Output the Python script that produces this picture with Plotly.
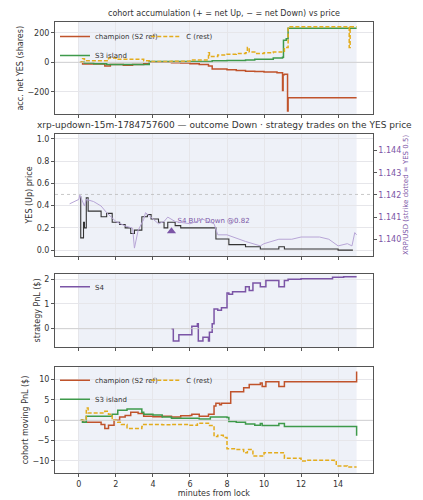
import plotly.graph_objects as go
from plotly.subplots import make_subplots

# ---- data ----
acc_champ_t = [0.1, 0.2, 1.4, 1.7, 2.4, 2.9, 3.5, 3.8, 5.0, 5.5, 6.0, 6.5, 7.0, 7.2, 8.0, 8.5, 9.0, 9.5, 10.0, 10.7, 11.0, 11.03, 11.1, 11.27, 11.3, 15.0]
acc_champ_v = [0, -12, -25, -15, -20, -15, -10, 0, -3, -5, -10, -15, -25, -45, -50, -55, -60, -62, -65, -70, -190, -85, -80, -330, -240, -240]
acc_s3_t = [0.1, 0.3, 0.8, 1.5, 3.8, 7.2, 8.0, 9.0, 9.5, 10.5, 11.0, 11.05, 11.2, 11.3, 15.0]
acc_s3_v = [0, -5, -10, -15, 5, 10, 12, 15, 20, 30, 35, 150, 160, 230, 230]
acc_c_t = [0.05, 0.2, 0.3, 1.6, 2.0, 3.5, 3.8, 5.0, 6.0, 7.0, 7.05, 7.5, 8.0, 8.5, 9.0, 9.1, 9.2, 9.5, 10.0, 10.5, 11.1, 11.3, 14.6, 14.65, 15.0]
acc_c_v = [0, 25, 10, 30, 20, 10, 5, 8, 15, 65, 40, 50, 55, 60, 65, 100, 70, 60, 65, 70, 100, 240, 100, 240, 240]

yes_t = [0.05, 0.1, 0.25, 0.3, 0.4, 0.5, 1.2, 1.5, 1.8, 2.2, 2.5, 2.8, 3.0, 3.4, 3.7, 3.9, 4.3, 4.6, 4.8, 5.2, 5.5, 7.4, 8.1, 9.0, 9.8, 10.8, 11.1, 14.0, 14.8]
yes_v = [0.48, 0.11, 0.25, 0.2, 0.47, 0.35, 0.3, 0.33, 0.25, 0.23, 0.2, 0.15, 0.18, 0.3, 0.32, 0.28, 0.25, 0.2, 0.25, 0.22, 0.2, 0.1, 0.05, 0.03, 0.01, 0.03, 0.01, 0.0, 0.0]
xrp_t = [-0.5, 0.0, 0.05, 0.3, 0.4, 0.8, 1.2, 1.5, 2.0, 2.5, 2.9, 3.0, 3.2, 3.5, 3.6, 4.0, 4.3, 4.6, 4.8, 5.2, 6.0, 6.7, 7.3, 7.5, 8.0, 9.0, 9.8, 10.0, 10.8, 11.5, 12.0, 13.0, 13.5, 14.0, 14.5, 14.75, 14.9, 15.0]
xrp_v = [1.1416, 1.1418, 1.1420, 1.1415, 1.1418, 1.1417, 1.1415, 1.1412, 1.1408, 1.1406, 1.1405, 1.1396, 1.1404, 1.1409, 1.1412, 1.1409, 1.1407, 1.1408, 1.1410, 1.1408, 1.1407, 1.1409, 1.1407, 1.1402, 1.1402, 1.1399, 1.1397, 1.1398, 1.1400, 1.1400, 1.1401, 1.1401, 1.1400, 1.1397, 1.1398, 1.1397, 1.1403, 1.1402]
buy_t = [5.0]
buy_v = [0.17]
buy_label = ["S4 BUY Down @0.82"]

s4_t = [5.0, 5.1, 5.4, 6.1, 6.4, 6.45, 6.7, 7.0, 7.05, 7.2, 7.3, 7.5, 7.7, 8.0, 8.1, 8.3, 9.0, 9.2, 9.4, 9.8, 10.1, 10.8, 11.1, 11.3, 12.0, 13.7, 14.3, 15.0]
s4_v = [0, -0.5, -0.25, 0.1, 0.2, -0.5, -0.35, -0.5, -0.15, 0.2, 0.8, 0.75, 0.85, 1.45, 1.4, 1.5, 1.7, 1.55, 1.85, 1.7, 1.95, 1.7, 1.95, 2.0, 2.02, 2.08, 2.1, 2.1]

pnl_champ_t = [0.1, 0.2, 1.2, 1.4, 1.6, 1.9, 2.2, 2.5, 2.8, 3.2, 3.5, 4.0, 4.5, 5.0, 5.5, 6.0, 6.1, 6.5, 7.0, 7.3, 7.4, 7.6, 7.7, 8.2, 8.9, 9.2, 9.8, 9.9, 10.1, 10.8, 11.1, 14.99, 15.0]
pnl_champ_v = [0, -0.5, -1, -2, -1.2, 0, 0.8, 1.2, 2, 1.7, 1, 0.9, 1, 0.8, 1.1, 1.2, 1.5, 1, 1.5, 3.5, 4.2, 3.8, 4.2, 7, 8, 8.8, 9.2, 8.3, 9.5, 8.3, 9.5, 9.5, 12]
pnl_s3_t = [0.1, 0.2, 0.4, 1.7, 1.8, 2.1, 2.6, 3.3, 3.4, 3.5, 4.0, 4.5, 5.0, 6.0, 6.5, 7.1, 8.0, 8.1, 8.5, 9.0, 9.5, 9.8, 9.9, 10.1, 10.8, 11.1, 14.99, 15.0]
pnl_s3_v = [0, -0.5, 1, 1, 1.5, 2.5, 2.8, 2.8, 2, 1.5, 1.3, 0.8, 0.5, 0.5, 0.3, 0.8, 0.7, -0.3, -0.5, -0.9, -1.2, -0.8, -1.3, -1.3, -0.8, -1.5, -1.5, -3.8]
pnl_c_t = [0.1, 0.4, 0.5, 1.4, 1.6, 1.8, 2.1, 2.3, 2.6, 3.4, 3.5, 4.5, 5.0, 6.0, 6.4, 7.0, 7.3, 7.5, 7.8, 8.0, 8.5, 8.9, 9.1, 9.4, 10.0, 10.9, 11.1, 12.0, 12.3, 13.8, 13.9, 14.5, 15.0]
pnl_c_v = [0, 3, 1.8, 2.2, 1.5, 0, -0.5, -1, -2, -1.5, -1, -1.1, -1, -1.2, -0.7, -1.3, -4, -3.7, -4.2, -7, -7.2, -8, -7.2, -8.8, -8, -8, -9.3, -10, -9.8, -9.9, -11.2, -11.5, -11.5]

RUST = "#c0532b"; GREEN = "#3e9a4b"; GOLD = "#e3ac1c"; PURP = "#7b55a6"; LPURP = "#b7a5d6"
DASH = "4px,2px"

fig = make_subplots(rows=4, cols=1, shared_xaxes=True, specs=[[{}], [{"secondary_y": True}], [{}], [{}]])
fig.update_layout(
    yaxis=dict(domain=[0.795, 1.0]),
    yaxis2=dict(domain=[0.481, 0.752]), yaxis3=dict(domain=[0.481, 0.752]),
    yaxis4=dict(domain=[0.279, 0.442]), yaxis5=dict(domain=[0.0, 0.235]),
)

def step(t, v, color, name, row, legend, dash="solid", width=1.5, sec=False, show=True):
    fig.add_trace(go.Scatter(x=t, y=v, mode="lines", line=dict(color=color, width=width, dash=dash, shape="hv"),
                             name=name, legend=legend, showlegend=show), row=row, col=1, secondary_y=sec if row == 2 else None)

step(acc_champ_t, acc_champ_v, RUST, "champion (S2 ref)", 1, "legend")
step(acc_s3_t, acc_s3_v, GREEN, "S3 island", 1, "legend")
step(acc_c_t, acc_c_v, GOLD, "C (rest)", 1, "legend2", dash=DASH)

fig.add_trace(go.Scatter(x=xrp_t, y=xrp_v, mode="lines", line=dict(color=LPURP, width=1), showlegend=False), row=2, col=1, secondary_y=True)
step(yes_t, yes_v, "#333333", "YES", 2, "legend", width=1.1, show=False)
fig.add_trace(go.Scatter(x=buy_t, y=buy_v, mode="markers+text", marker=dict(symbol="triangle-up", size=8, color=PURP),
                         text=buy_label, textposition="top right", textfont=dict(size=7, color=PURP), showlegend=False), row=2, col=1)

step(s4_t, s4_v, PURP, "S4", 3, "legend3")

step(pnl_champ_t, pnl_champ_v, RUST, "champion (S2 ref)", 4, "legend4")
step(pnl_s3_t, pnl_s3_v, GREEN, "S3 island", 4, "legend4")
step(pnl_c_t, pnl_c_v, GOLD, "C (rest)", 4, "legend5", dash=DASH)

fig.add_hline(y=0.5, line=dict(color="#bbbbbb", width=0.8, dash="dot"), row=2, col=1)
for r in [1, 3, 4]:
    fig.add_hline(y=0, line=dict(color="#cccccc", width=0.8), row=r, col=1)
for yr in ["y", "y2", "y4", "y5"]:
    fig.add_shape(type="rect", xref="x", yref=yr + " domain", x0=0, x1=15, y0=0, y1=1,
                  fillcolor="#eef1f8", line_width=0, layer="below")

ax = dict(showline=True, linecolor="#555555", linewidth=1, mirror=True, ticks="outside", ticklen=3,
          tickcolor="#555555", gridcolor="#e6e6ea", tickfont=dict(size=8, color="#333"), zeroline=False)
fig.update_xaxes(**ax, range=[-1.29, 15.87], tickvals=[0, 2, 4, 6, 8, 10, 12, 14])
fig.update_xaxes(title=dict(text="minutes from lock", font=dict(size=8), standoff=2), row=4, col=1)
fig.update_yaxes(**ax)
fig.update_yaxes(range=[-353, 273], tickvals=[-200, 0, 200], row=1, col=1,
                 title=dict(text="acc. net YES (shares)", font=dict(size=8), standoff=2))
fig.update_yaxes(range=[-0.053, 1.044], tickvals=[0, 0.2, 0.4, 0.6, 0.8, 1.0], tickformat=".1f", row=2, col=1, secondary_y=False,
                 title=dict(text="YES (Up) price", font=dict(size=8), standoff=2))
fig.update_yaxes(range=[1.13924, 1.14476], tickvals=[1.140, 1.141, 1.142, 1.143, 1.144], tickformat=".3f", showgrid=False,
                 tickfont=dict(size=8, color=PURP), row=2, col=1, secondary_y=True,
                 title=dict(text="XRP/USD (strike dotted = YES 0.5)", font=dict(size=7, color=PURP), standoff=2))
fig.update_yaxes(range=[-0.75, 2.23], tickvals=[0, 1, 2], row=3, col=1,
                 title=dict(text="strategy PnL ($)", font=dict(size=8), standoff=2))
fig.update_yaxes(range=[-12.95, 13.1], tickvals=[-10, -5, 0, 5, 10], row=4, col=1,
                 title=dict(text="cohort moving PnL ($)", font=dict(size=8), standoff=2))

lg = dict(font=dict(size=7), bgcolor="rgba(0,0,0,0)", xanchor="left", yanchor="top", tracegroupgap=0, itemwidth=30)
fig.update_layout(
    width=423, height=500, margin=dict(l=38, r=38, t=14, b=27),
    plot_bgcolor="white", paper_bgcolor="white", font=dict(family="DejaVu Sans", color="#333"),
    legend=dict(**lg, x=0.0, y=1.0),
    legend2=dict(**lg, x=0.27, y=1.0),
    legend3=dict(**lg, x=0.0, y=0.445),
    legend4=dict(**lg, x=0.0, y=0.238),
    legend5=dict(**lg, x=0.27, y=0.238),
    annotations=[
        dict(text="cohort accumulation (+ = net Up, − = net Down) vs price", xref="paper", yref="paper",
             x=0.5, y=1.0, yshift=2, yanchor="bottom", showarrow=False, font=dict(size=8)),
        dict(text="xrp-updown-15m-1784757600 — outcome Down · strategy trades on the YES price", xref="paper", yref="paper",
             x=0.5, y=0.752, yshift=2, yanchor="bottom", showarrow=False, font=dict(size=9)),
    ],
)
fig.write_html("out.html")
